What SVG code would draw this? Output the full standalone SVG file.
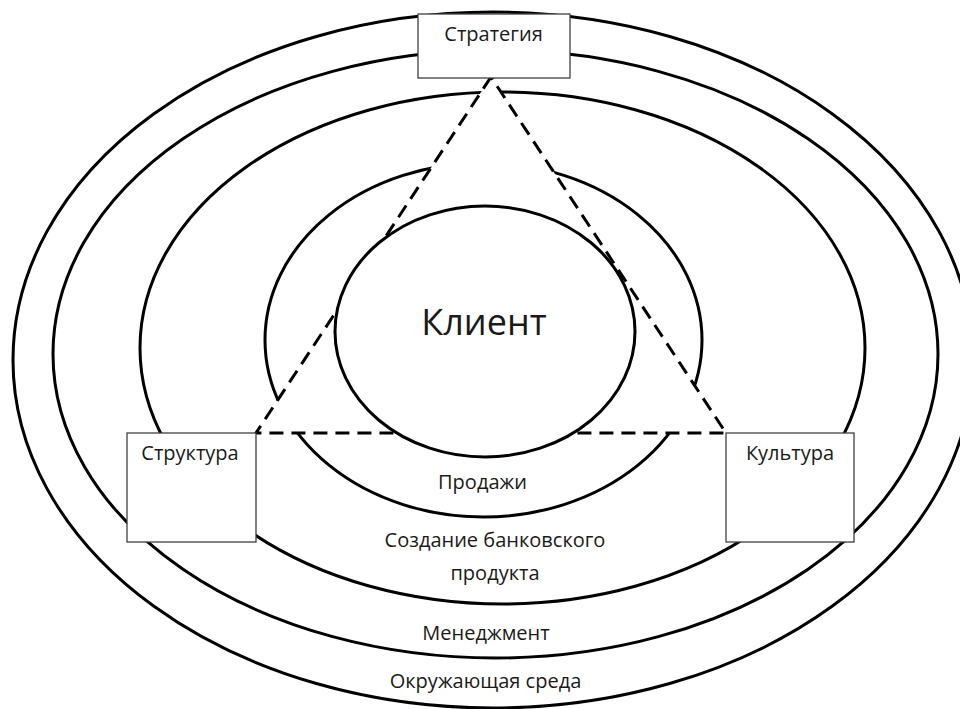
<svg xmlns="http://www.w3.org/2000/svg" width="960" height="709" viewBox="0 0 960 709">
  <style>
    .ring { fill: none; stroke: #000; stroke-width: 3; }
    .box { fill: #fff; stroke: #404040; stroke-width: 1.3; }
    .lbl { font-family: "Open Sans", "Noto Sans", "DejaVu Sans", sans-serif; font-size: 20px; fill: #1a1a1a; text-anchor: middle; }
    .big { font-size: 36px; }
    .dash { fill: none; stroke: #000; stroke-width: 3; stroke-dasharray: 14 8; }
  </style>
  <rect x="0" y="0" width="960" height="709" fill="#fff"/>
  <g id="rings">
    <ellipse class="ring" cx="493" cy="360" rx="480" ry="348"/>
    <ellipse class="ring" cx="495.5" cy="354" rx="442.5" ry="304"/>
    <ellipse class="ring" cx="502.5" cy="348" rx="362.5" ry="256"/>
    <ellipse class="ring" cx="483.5" cy="340" rx="218.5" ry="177"/>
    <polygon points="491,77 256,433 726,433" fill="#fff"/>
  </g>
  <g id="connectors">
    <polygon class="dash" points="491,77 256,433 726,433"/>
  </g>
  <g id="client">
    <ellipse cx="485" cy="331.5" rx="150" ry="125.5" fill="#fff" stroke="#000" stroke-width="3"/>
    <text class="lbl big" x="484" y="335">Клиент</text>
  </g>
  <g id="strategy">
    <rect class="box" x="418" y="14" width="152" height="64"/>
    <text class="lbl" x="493.5" y="40.5">Стратегия</text>
  </g>
  <g id="structure">
    <rect class="box" x="127" y="433" width="129" height="109"/>
    <text class="lbl" x="190" y="460">Структура</text>
  </g>
  <g id="culture">
    <rect class="box" x="726" y="433" width="128" height="109"/>
    <text class="lbl" x="790" y="460">Культура</text>
  </g>
  <g id="ring-labels">
    <text class="lbl" x="482.5" y="489">Продажи</text>
    <text class="lbl" x="495" y="547">Создание банковского</text>
    <text class="lbl" x="495" y="580">продукта</text>
    <text class="lbl" x="486" y="640">Менеджмент</text>
    <text class="lbl" x="485.5" y="688">Окружающая среда</text>
  </g>
</svg>
